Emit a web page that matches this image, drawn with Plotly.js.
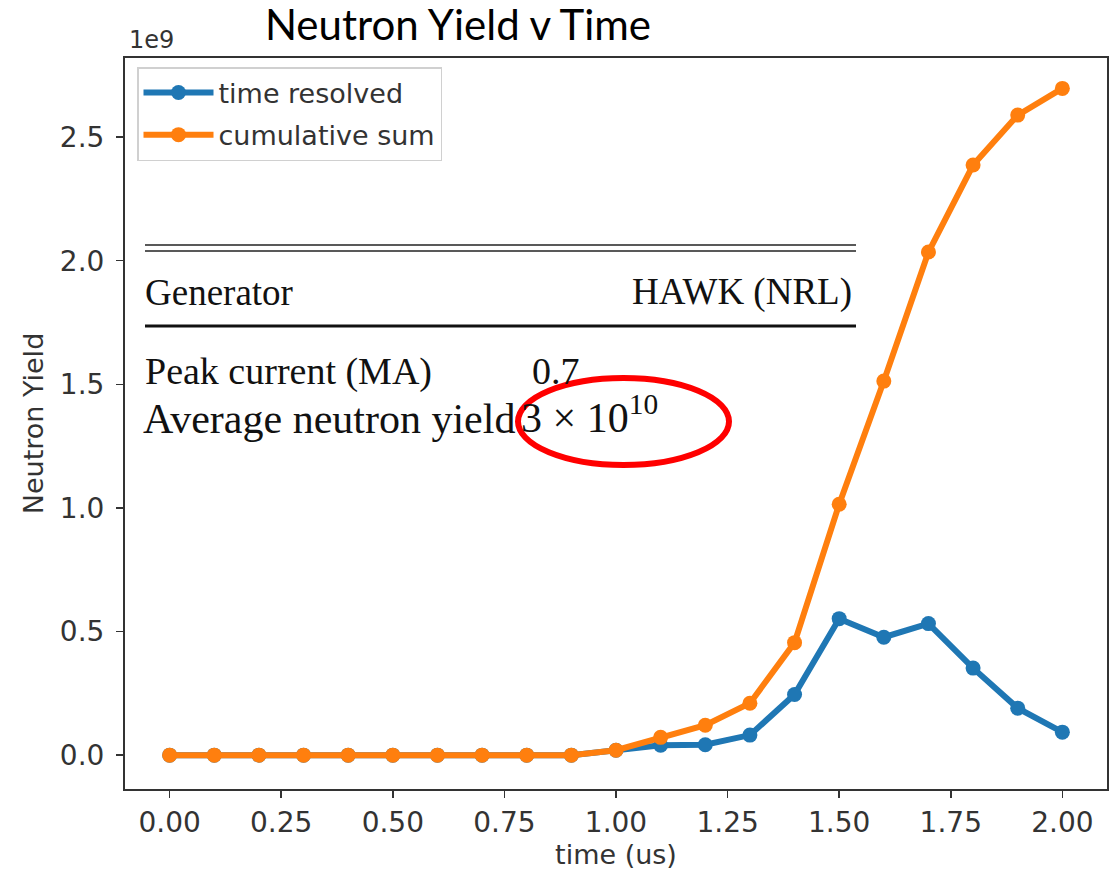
<!DOCTYPE html>
<html>
<head>
<meta charset="utf-8">
<script src="https://cdn.plot.ly/plotly-3.0.1.min.js"></script>
<style>
html,body{margin:0;padding:0;background:#fff;}
#chart{width:1115px;height:873px;}
</style>
</head>
<body>
<div id="chart"></div>
<script>
// ---- data ----
var timeUs = [0.0,0.1,0.2,0.3,0.4,0.5,0.6,0.7,0.8,0.9,1.0,1.1,1.2,1.3,1.4,1.5,1.6,1.7,1.8,1.9,2.0];
var timeResolved = [0,0,0,0,0,0,0,0,0,0,0.02e9,0.04e9,0.042e9,0.081e9,0.245e9,0.552e9,0.477e9,0.532e9,0.352e9,0.19e9,0.093e9];
var cumulativeSum = [0,0,0,0,0,0,0,0,0,0,0.02e9,0.072e9,0.121e9,0.21e9,0.455e9,1.015e9,1.513e9,2.035e9,2.387e9,2.589e9,2.697e9];
var seriesNames = ["time resolved","cumulative sum"];
var xTickVals = [0,0.25,0.5,0.75,1.0,1.25,1.5,1.75,2.0];
var xTickText = ["0.00","0.25","0.50","0.75","1.00","1.25","1.50","1.75","2.00"];
var yTickVals = [0,0.5e9,1.0e9,1.5e9,2.0e9,2.5e9];
var yTickText = ["0.0","0.5","1.0","1.5","2.0","2.5"];
var tableRows = [["Generator","HAWK (NRL)"],["Peak current (MA)","0.7"],["Average neutron yield","3 × 10<sup>10</sup>"]];

// ---- geometry helpers (pixel -> paper) ----
var W=1115,H=873,L=125,R=8,T=58,B=84;
var pw=W-L-R, ph=H-T-B;
function px(x){return (x-L)/pw;}
function py(y){return (H-B-y)/ph;}

var traces = [
  {x:timeUs,y:timeResolved,name:seriesNames[0],type:'scatter',mode:'lines+markers',legendgroup:'a',
   line:{color:'#1f77b4',width:6},marker:{color:'#1f77b4',size:15}},
  {x:timeUs,y:cumulativeSum,name:seriesNames[1],type:'scatter',mode:'lines+markers',legendgroup:'b',
   line:{color:'#ff7f0e',width:6},marker:{color:'#ff7f0e',size:15}}
];

var serif = 'Liberation Serif, Times New Roman, serif';
var ann = [
  {text:'1e9',xref:'paper',yref:'paper',x:px(127),y:py(40),xanchor:'left',yanchor:'middle',showarrow:false,
   font:{family:'DejaVu Sans',size:24,color:'#333'}},
  {text:tableRows[0][0],xref:'paper',yref:'paper',x:px(143),y:py(292),xanchor:'left',yanchor:'middle',showarrow:false,font:{family:serif,size:37,color:'#111'}},
  {text:tableRows[0][1],xref:'paper',yref:'paper',x:px(854),y:py(292),xanchor:'right',yanchor:'middle',showarrow:false,font:{family:serif,size:37,color:'#111'}},
  {text:tableRows[1][0],xref:'paper',yref:'paper',x:px(143),y:py(371),xanchor:'left',yanchor:'middle',showarrow:false,font:{family:serif,size:38,color:'#111'}},
  {text:tableRows[1][1],xref:'paper',yref:'paper',x:px(530),y:py(371),xanchor:'left',yanchor:'middle',showarrow:false,font:{family:serif,size:38,color:'#111'}},
  {text:tableRows[2][0],xref:'paper',yref:'paper',x:px(141),y:py(419),xanchor:'left',yanchor:'middle',showarrow:false,font:{family:serif,size:42,color:'#111'}},
  {text:tableRows[2][1],xref:'paper',yref:'paper',x:px(519),y:py(414),xanchor:'left',yanchor:'middle',showarrow:false,font:{family:serif,size:42,color:'#111'}}
];

var shapes = [
  {type:'line',xref:'paper',yref:'paper',x0:px(145),x1:px(856),y0:py(245),y1:py(245),line:{color:'#222',width:1.5}},
  {type:'line',xref:'paper',yref:'paper',x0:px(145),x1:px(856),y0:py(251),y1:py(251),line:{color:'#222',width:1.5}},
  {type:'line',xref:'paper',yref:'paper',x0:px(145),x1:px(856),y0:py(326),y1:py(326),line:{color:'#111',width:3}},
  {type:'circle',xref:'paper',yref:'paper',x0:px(518),x1:px(729),y0:py(378),y1:py(465),line:{color:'#ff0000',width:6}}
];

var layout = {
  width:W,height:H,
  margin:{l:L,r:R,t:T,b:B,pad:0},
  paper_bgcolor:'#fff',plot_bgcolor:'#fff',
  title:{text:'Neutron Yield v Time',font:{family:'Lato',size:42,color:'#000'},
         xref:'container',yref:'container',x:458/W,y:1-25/H,xanchor:'center',yanchor:'middle'},
  xaxis:{range:[-0.1,2.1],tickvals:xTickVals,ticktext:xTickText,showgrid:false,zeroline:false,
         showline:true,mirror:true,linecolor:'#333',linewidth:2,ticks:'outside',ticklen:7,tickwidth:1.5,tickcolor:'#333',
         tickfont:{family:'DejaVu Sans',size:28,color:'#333'},
         title:{text:'time (us)',font:{family:'DejaVu Sans',size:27,color:'#333'},standoff:6}},
  yaxis:{range:[-0.137e9,2.82e9],tickvals:yTickVals,ticktext:yTickText,showgrid:false,zeroline:false,
         showline:true,mirror:true,linecolor:'#333',linewidth:2,ticks:'outside',ticklen:7,tickwidth:1.5,tickcolor:'#333',
         ticklabelstandoff:6,
         tickfont:{family:'DejaVu Sans',size:28,color:'#333'},
         title:{text:'Neutron Yield',font:{family:'DejaVu Sans',size:27,color:'#333'},standoff:8}},
  legend:{x:px(137),y:py(67),xanchor:'left',yanchor:'top',bgcolor:'rgba(255,255,255,0.8)',
          bordercolor:'#d0d0d0',borderwidth:1.5,font:{family:'DejaVu Sans',size:27,color:'#333'},
          itemwidth:70,tracegroupgap:4,traceorder:'grouped'},
  showlegend:true,
  annotations:ann,
  shapes:shapes
};

Plotly.newPlot('chart',traces,layout,{displayModeBar:false,staticPlot:true});
</script>
</body>
</html>
